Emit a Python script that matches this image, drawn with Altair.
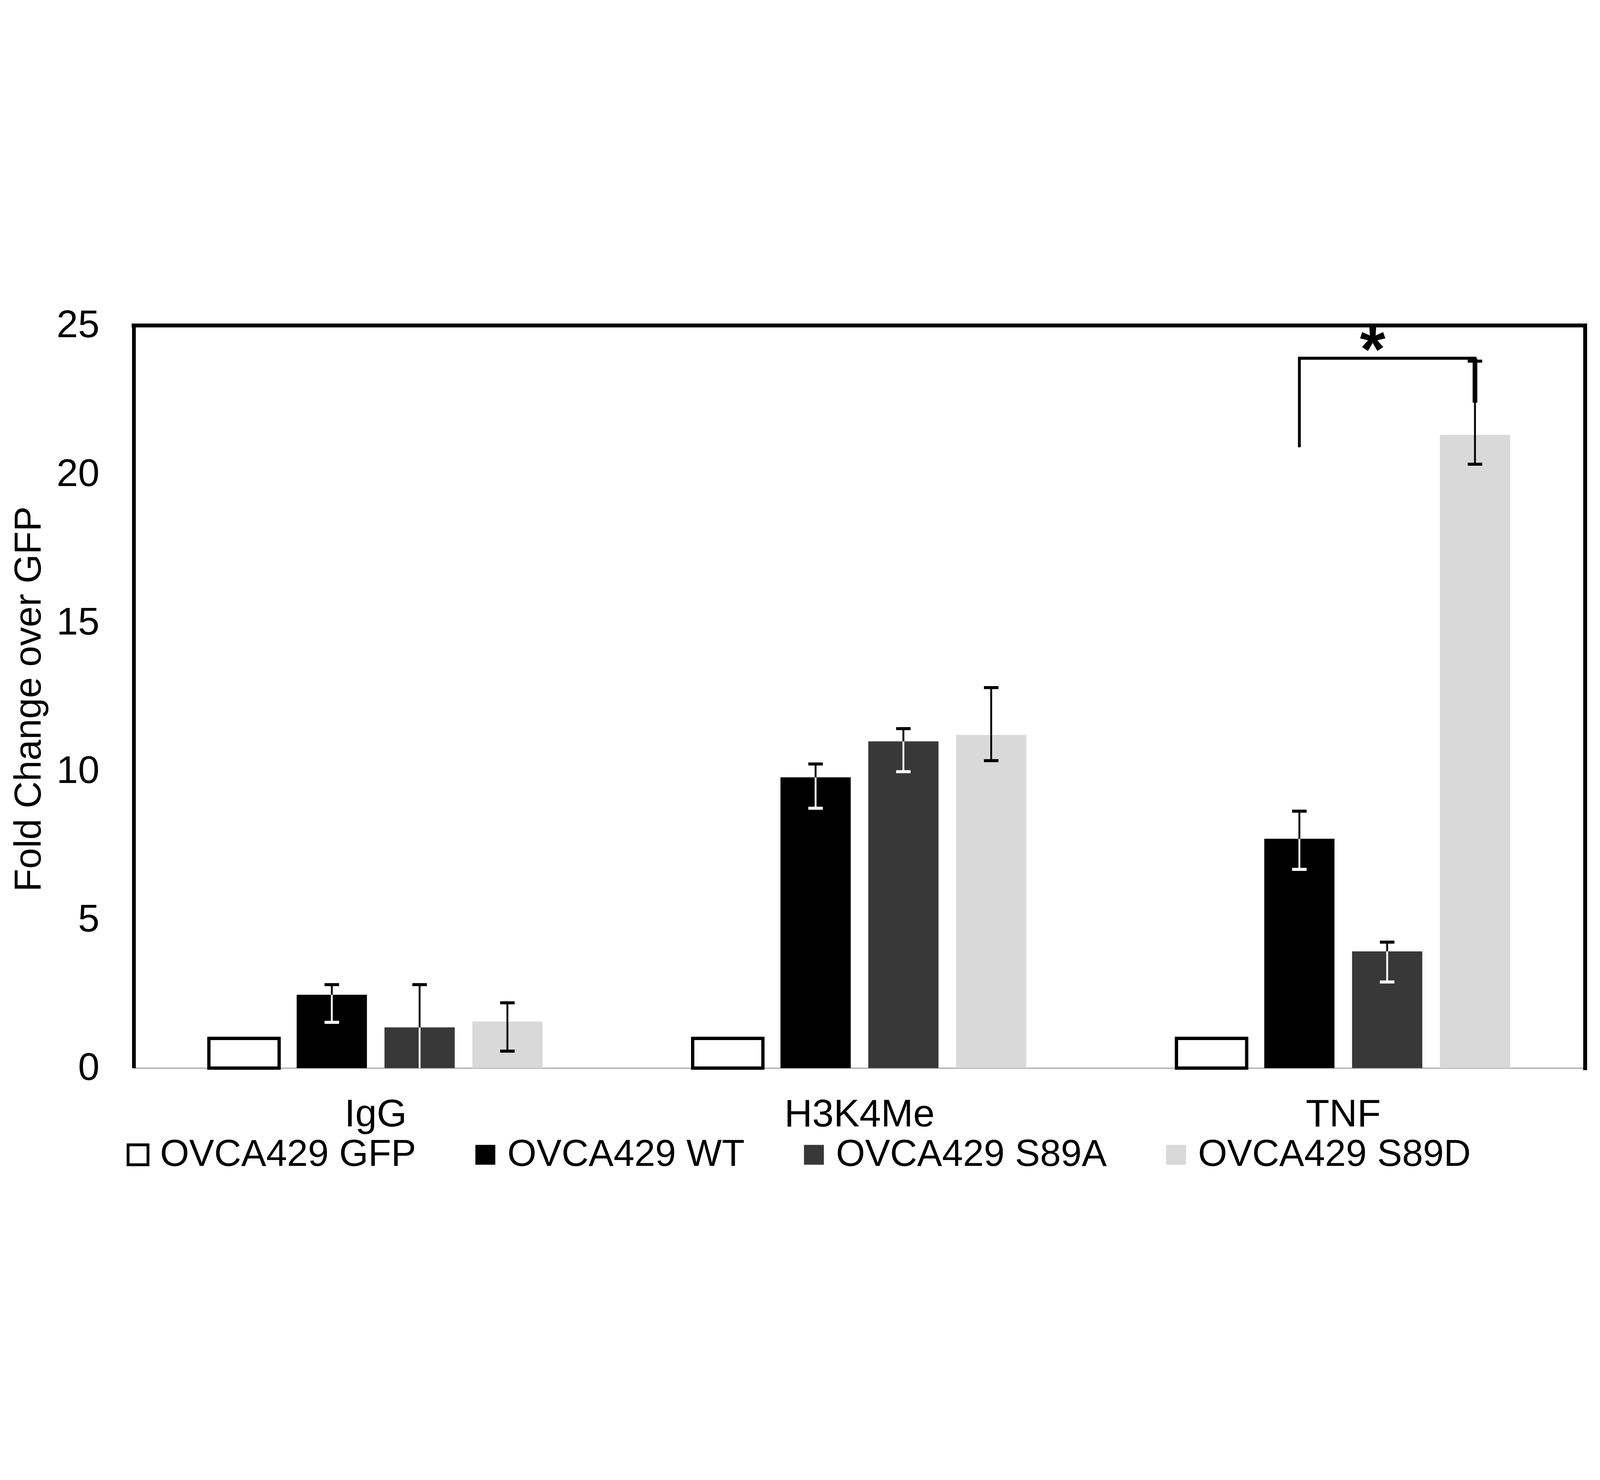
import altair as alt
import pandas as pd

# categories
targets = ["IgG", "H3K4Me", "TNF"]
samples = ["OVCA429 GFP", "OVCA429 WT", "OVCA429 S89A", "OVCA429 S89D"]
fills = ["#ffffff", "#000000", "#383838", "#d9d9d9"]

# fold change per target (IgG, H3K4Me, TNF)
gfp = [1.0, 1.0, 1.0]
wt = [2.47, 9.79, 7.72]
s89a = [1.37, 11.0, 3.93]
s89d = [1.57, 11.22, 21.32]

# error bar ends
wt_hi = [2.81, 10.24, 8.65]
wt_lo = [1.54, 8.75, 6.69]
s89a_hi = [2.81, 11.43, 4.24]
s89a_lo = [0.0, 9.98, 2.90]
s89d_hi = [2.20, 12.81, 23.8]
s89d_lo = [0.57, 10.35, 20.33]

# significance bracket (TNF: WT vs S89D)
bracket_target = "TNF"
bracket_left = ["OVCA429 WT", 20.9, 23.9]
bracket_right = ["OVCA429 S89D", 22.4, 23.9]
bracket_mid = "OVCA429 S89A"
star_y = 23.45

W, H = 6197, 3170
FONT = "Liberation Sans"
P_IN, P_OUT = 0.2, 0.855
step = W / 3 / (4 - P_IN + 2 * P_OUT)

values = [gfp, wt, s89a, s89d]
highs = [None, wt_hi, s89a_hi, s89d_hi]
lows = [None, wt_lo, s89a_lo, s89d_lo]
# part of the error bar inside a dark bar shows white
low_colors = ["#000000", "#ffffff", "#ffffff", "#000000"]

rows = []
for i, s in enumerate(samples):
    for j, t in enumerate(targets):
        rows.append({
            "target": t,
            "sample": s,
            "value": values[i][j],
            "hi": highs[i][j] if highs[i] else None,
            "lo": lows[i][j] if lows[i] else None,
            "low_color": low_colors[i],
        })
df = pd.DataFrame(rows)

x_enc = alt.X("target:N", sort=targets, scale=alt.Scale(paddingInner=0, paddingOuter=0),
              axis=alt.Axis(title=None, labelAngle=0, labelFontSize=165, labelFont=FONT,
                            labelColor="#000000", labelPadding=118, labelLimit=3000,
                            ticks=False, tickSize=0,
                            domainColor="#a8a8a8", domainWidth=5))
xo_enc = alt.XOffset("sample:N", sort=samples,
                     scale=alt.Scale(paddingInner=P_IN, paddingOuter=P_OUT))

base = alt.Chart(df)

bars = base.mark_bar().encode(
    x=x_enc,
    xOffset=xo_enc,
    y=alt.Y("value:Q", scale=alt.Scale(domain=[0, 25], nice=False),
            axis=alt.Axis(values=[0, 5, 10, 15, 20, 25], format="d", grid=False,
                          ticks=False, tickSize=0,
                          labelFontSize=165, labelFont=FONT, labelColor="#000000",
                          labelLimit=3000, labelPadding=147,
                          domainColor="#000000", domainWidth=16,
                          title="Fold Change over GFP", titleFontSize=160, titleFont=FONT,
                          titleFontWeight="normal", titleColor="#000000", titleAngle=270,
                          titleX=-399, titleY=1594, titleAlign="center",
                          titleBaseline="alphabetic", titleLimit=5000)),
    fill=alt.Fill("sample:N", sort=samples,
                  scale=alt.Scale(domain=samples, range=fills),
                  legend=alt.Legend(title=None, orient="none", direction="horizontal",
                                    columns=4, legendX=-62, legendY=3460, padding=0,
                                    symbolType="square", symbolSize=7225,
                                    symbolStrokeWidth=12, labelFontSize=160,
                                    labelFont=FONT, labelColor="#000000", labelLimit=3000,
                                    labelOffset=14, columnPadding=215)),
    stroke=alt.Stroke("sample:N", sort=samples,
                      scale=alt.Scale(domain=samples,
                                      range=["#000000", "transparent", "transparent", "transparent"])),
    strokeWidth=alt.condition(alt.datum.sample == samples[0], alt.value(14), alt.value(0)),
)

err = base.transform_filter("isValid(datum.hi)")

upper = err.mark_rule(strokeWidth=8, color="#000000").encode(
    x=alt.X("target:N", sort=targets), xOffset=xo_enc, y="value:Q", y2="hi:Q")
lower = err.mark_rule(strokeWidth=8).encode(
    x=alt.X("target:N", sort=targets), xOffset=xo_enc, y="lo:Q", y2="value:Q",
    color=alt.Color("low_color:N", scale=None))
cap_hi = err.mark_tick(orient="horizontal", size=62, thickness=13, color="#000000",
                       opacity=1).encode(
    x=alt.X("target:N", sort=targets), xOffset=xo_enc, y="hi:Q")
cap_lo = err.transform_filter("datum.lo > 0.1").mark_tick(
    orient="horizontal", size=62, thickness=13, opacity=1).encode(
    x=alt.X("target:N", sort=targets), xOffset=xo_enc, y="lo:Q",
    color=alt.Color("low_color:N", scale=None))

legs = pd.DataFrame({
    "target": [bracket_target, bracket_target],
    "sample": [bracket_left[0], bracket_right[0]],
    "y": [bracket_left[1], bracket_right[1]],
    "y2": [bracket_left[2], bracket_right[2]],
    "w": [12, 20],
})
bracket_legs = alt.Chart(legs).mark_rule(color="#000000").encode(
    x=alt.X("target:N", sort=targets), xOffset=xo_enc, y="y:Q", y2="y2:Q",
    strokeWidth=alt.StrokeWidth("w:Q", scale=None))
top_bar = pd.DataFrame({"target": [bracket_target], "sample": [bracket_mid],
                        "y": [bracket_left[2]], "star": [star_y], "label": ["*"]})
bracket_top = alt.Chart(top_bar).mark_tick(
    orient="horizontal", size=2 * step + 12, thickness=13, color="#000000", opacity=1).encode(
    x=alt.X("target:N", sort=targets), xOffset=xo_enc, y="y:Q")
star = alt.Chart(top_bar).mark_text(
    fontSize=280, fontWeight="bold", font=FONT, color="#000000", dx=-62,
    baseline="alphabetic").encode(
    x=alt.X("target:N", sort=targets), xOffset=xo_enc, y="star:Q", text="label:N")

frame_top = alt.Chart(df).mark_rule(color="#000000", strokeWidth=16, strokeCap="square").encode(
    x=alt.value(0), x2=alt.value(W), y=alt.value(0))
frame_right = alt.Chart(df).mark_rule(color="#000000", strokeWidth=16, strokeCap="square").encode(
    x=alt.value(W), y=alt.value(0), y2=alt.value(H))

chart = alt.layer(
    bars, lower, upper, cap_lo, cap_hi, bracket_legs, bracket_top, star, frame_top, frame_right
).properties(
    width=W, height=H, autosize="none",
    padding={"left": 558, "top": 123, "right": 50, "bottom": 460},
    background="#ffffff",
).configure_view(stroke=None)

chart.save("out.html", embed_options={"renderer": "svg", "actions": False})
